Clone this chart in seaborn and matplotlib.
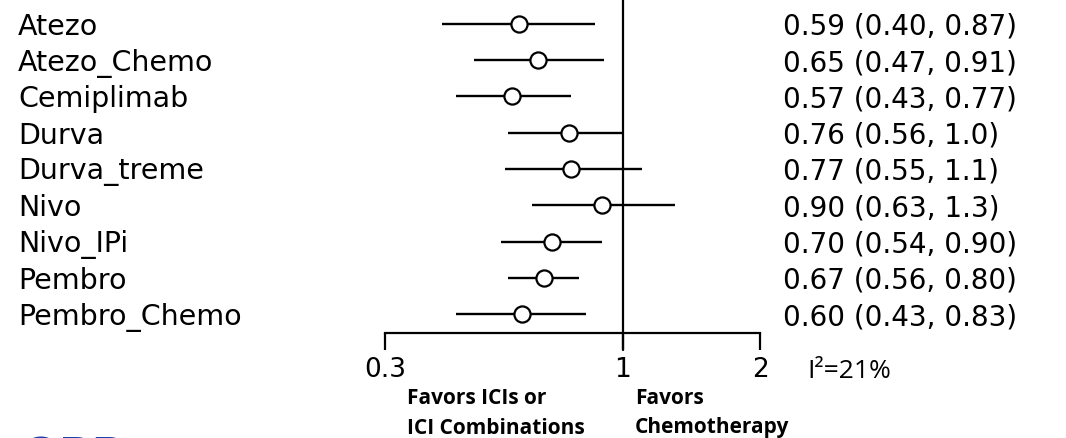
import numpy as np
import pandas as pd
import matplotlib
matplotlib.use("Agg")
import matplotlib.pyplot as plt
import matplotlib.transforms as mtransforms
import seaborn as sns

# ─── Data ─────────────────────────────────────────────────────────────────────
treatments = ["Atezo", "Atezo_Chemo", "Cemiplimab", "Durva", "Durva_treme",
              "Nivo", "Nivo_IPi", "Pembro", "Pembro_Chemo"]
hr       = [0.59, 0.65, 0.57, 0.76, 0.77, 0.90, 0.70, 0.67, 0.60]
ci_low   = [0.40, 0.47, 0.43, 0.56, 0.55, 0.63, 0.54, 0.56, 0.43]
ci_high  = [0.87, 0.91, 0.77, 1.0, 1.1, 1.3, 0.90, 0.80, 0.83]
ci_text  = ["0.59 (0.40, 0.87)", "0.65 (0.47, 0.91)", "0.57 (0.43, 0.77)",
            "0.76 (0.56, 1.0)", "0.77 (0.55, 1.1)", "0.90 (0.63, 1.3)",
            "0.70 (0.54, 0.90)", "0.67 (0.56, 0.80)", "0.60 (0.43, 0.83)"]
x_ticks  = [0.3, 1, 2]
x_labels = ["0.3", "1", "2"]
i2_text  = "I²=21%"

df = pd.DataFrame({"treatment": treatments, "hr": hr,
                   "lo": ci_low, "hi": ci_high, "txt": ci_text})
df["row"] = np.arange(len(df))

# ─── Plot ─────────────────────────────────────────────────────────────────────
sns.set_style("white")
plt.rcParams["font.family"] = ["DejaVu Sans"]
plt.rcParams["text.color"] = "black"
plt.rcParams["xtick.color"] = "black"

W, H = 1066, 438
fig = plt.figure(figsize=(W / 100, H / 100), dpi=100)
ax = fig.add_axes([385 / W, 1 - 333 / H, (760 - 385) / W, 333 / H])

ax.hlines(df["row"], df["lo"], df["hi"], color="black", lw=1.7, zorder=2)
ax.axvline(1, color="black", lw=1.6, ymin=-0.05, ymax=1, clip_on=False, zorder=1)
sns.scatterplot(data=df, x="hr", y="row", ax=ax, marker="o", s=135,
                color="white", edgecolor="black", linewidth=1.6, zorder=3,
                legend=False)

ax.set_xscale("log")
ax.set_xlim(0.3, 2)
ax.set_ylim(8.52, -0.66)
ax.set_xticks(x_ticks)
ax.set_xticklabels(x_labels, fontsize=19)
ax.xaxis.set_minor_locator(matplotlib.ticker.NullLocator())
ax.set_yticks([])
ax.set_xlabel("")
ax.set_ylabel("")
ax.tick_params(axis="x", direction="out", length=12, width=1.6, pad=5,
               bottom=True, color="black", labelcolor="black")
for side in ["top", "right", "left"]:
    ax.spines[side].set_visible(False)
ax.spines["bottom"].set_linewidth(1.6)
ax.spines["bottom"].set_color("black")
ax.patch.set_alpha(0)

# left labels and right estimates (nudged down a bit to sit on the row)
trans = mtransforms.blended_transform_factory(fig.transFigure, ax.transData)
for _, r in df.iterrows():
    fig.text(18 / W, r["row"] + 0.08, r["treatment"], transform=trans,
             fontsize=20.5, va="center", ha="left")
    fig.text(783 / W, r["row"] + 0.08, r["txt"], transform=trans,
             fontsize=20, va="center", ha="left")

fig.text(807 / W, 1 - 371 / H, i2_text, fontsize=19, family="Open Sans",
         va="center", ha="left")

fav_kw = dict(fontsize=15, family="Open Sans", weight="bold",
              va="center", ha="left")
fig.text(407 / W, 1 - 398 / H, "Favors ICIs or", **fav_kw)
fig.text(407 / W, 1 - 428 / H, "ICI Combinations", **fav_kw)
fig.text(635 / W, 1 - 398 / H, "Favors", **fav_kw)
fig.text(635 / W, 1 - 428 / H, "Chemotherapy", **fav_kw)

# slide title cut off at the bottom edge
fig.text(22 / W, 1 - 436.5 / H, "OPP", fontsize=32, weight="bold",
         color="#1f3fae", va="top", ha="left")

fig.savefig("out.png", dpi=100)
